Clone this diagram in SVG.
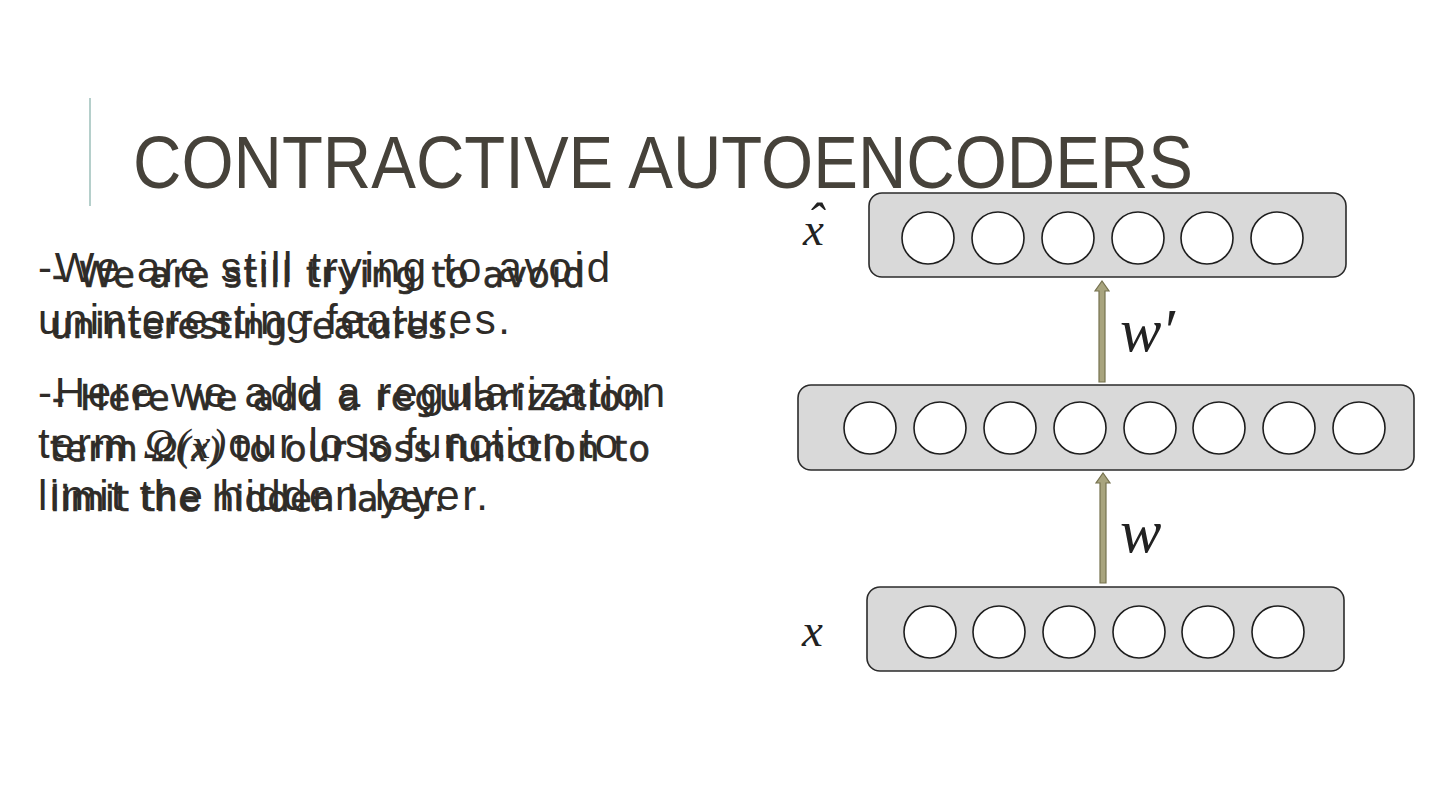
<svg xmlns="http://www.w3.org/2000/svg" width="1440" height="810" viewBox="0 0 1440 810">
<defs>
<style>
.title{font-family:"Liberation Sans",Arial,sans-serif;font-size:74px;fill:#46423a;}
.ta{font-family:"Liberation Sans",Arial,sans-serif;font-size:42px;fill:#2f2c28;}
.tb{font-family:"DejaVu Sans","Liberation Sans",sans-serif;font-size:35px;fill:#2f2c28;stroke:#2f2c28;stroke-width:0.7;}
.m{font-family:"Liberation Serif","Times New Roman",serif;font-style:italic;}
.lbl{font-family:"Liberation Serif","Times New Roman",serif;font-style:italic;fill:#222;}
.box{fill:#d9d9d9;stroke:#2b2b2b;stroke-width:1.6;}
.n{fill:#fff;stroke:#1e1e1e;stroke-width:1.6;}
.arr{fill:#a8a47e;stroke:#76724f;stroke-width:1.2;}
</style>
</defs>
<rect width="1440" height="810" fill="#ffffff"/>
<line x1="90" y1="98" x2="90" y2="206" stroke="#9cbfba" stroke-width="1.5"/>
<text class="title" x="133" y="188" textLength="1060" lengthAdjust="spacingAndGlyphs">CONTRACTIVE AUTOENCODERS</text>

<g id="body-text-a">
<text class="ta" x="38" y="282" textLength="572" lengthAdjust="spacing">-We are still trying to avoid</text>
<text class="ta" x="38" y="334" textLength="472" lengthAdjust="spacing">uninteresting features.</text>
<text class="ta" x="38" y="407" textLength="627" lengthAdjust="spacing">-Here we add a regularization</text>
<text class="ta" x="38" y="458" textLength="580" lengthAdjust="spacing">term <tspan class="m">Ω(x)</tspan>our loss function to</text>
<text class="ta" x="38" y="510" textLength="450" lengthAdjust="spacing">limit the hidden layer.</text>
</g>
<g id="body-text-b">
<text class="tb" x="52" y="287" textLength="533" lengthAdjust="spacing">- We are still trying to avoid</text>
<text class="tb" x="50" y="338" textLength="408" lengthAdjust="spacing">uninteresting features.</text>
<text class="tb" x="52" y="410" textLength="593" lengthAdjust="spacing">- Here we add a regularization</text>
<text class="tb" x="50" y="461" textLength="600" lengthAdjust="spacing">term <tspan class="m">Ω(x)</tspan> to our loss function to</text>
<text class="tb" x="50" y="511" textLength="395" lengthAdjust="spacing">limit the hidden layer.</text>
</g>

<g id="connectors">
<path class="arr" d="M1099,382 L1099,291 L1095,291 L1102,281 L1109,291 L1105,291 L1105,382 Z"/>
<path class="arr" d="M1100,583 L1100,483 L1096,483 L1103,473 L1110,483 L1106,483 L1106,583 Z"/>
</g>

<g id="output-layer">
<rect class="box" x="869" y="193" width="477" height="84" rx="13"/>
<circle class="n" cx="928" cy="238" r="26"/>
<circle class="n" cx="998" cy="238" r="26"/>
<circle class="n" cx="1068" cy="238" r="26"/>
<circle class="n" cx="1138" cy="238" r="26"/>
<circle class="n" cx="1207" cy="238" r="26"/>
<circle class="n" cx="1277" cy="238" r="26"/>
<text class="lbl" x="803" y="245" font-size="47">x</text>
<text class="lbl" x="807" y="238" font-size="50">ˆ</text>
</g>

<g id="hidden-layer">
<rect class="box" x="798" y="385" width="616" height="85" rx="13"/>
<circle class="n" cx="870" cy="428" r="26"/>
<circle class="n" cx="940" cy="428" r="26"/>
<circle class="n" cx="1010" cy="428" r="26"/>
<circle class="n" cx="1080" cy="428" r="26"/>
<circle class="n" cx="1150" cy="428" r="26"/>
<circle class="n" cx="1219" cy="428" r="26"/>
<circle class="n" cx="1289" cy="428" r="26"/>
<circle class="n" cx="1359" cy="428" r="26"/>
</g>

<g id="input-layer">
<rect class="box" x="867" y="587" width="477" height="84" rx="13"/>
<circle class="n" cx="930" cy="632" r="26"/>
<circle class="n" cx="999" cy="632" r="26"/>
<circle class="n" cx="1069" cy="632" r="26"/>
<circle class="n" cx="1139" cy="632" r="26"/>
<circle class="n" cx="1208" cy="632" r="26"/>
<circle class="n" cx="1278" cy="632" r="26"/>
<text class="lbl" x="802" y="646" font-size="47">x</text>
</g>

<g id="weight-labels">
<text class="lbl" x="1120" y="351" font-size="62">w′</text>
<text class="lbl" x="1120" y="552" font-size="62">w</text>
</g>
</svg>
